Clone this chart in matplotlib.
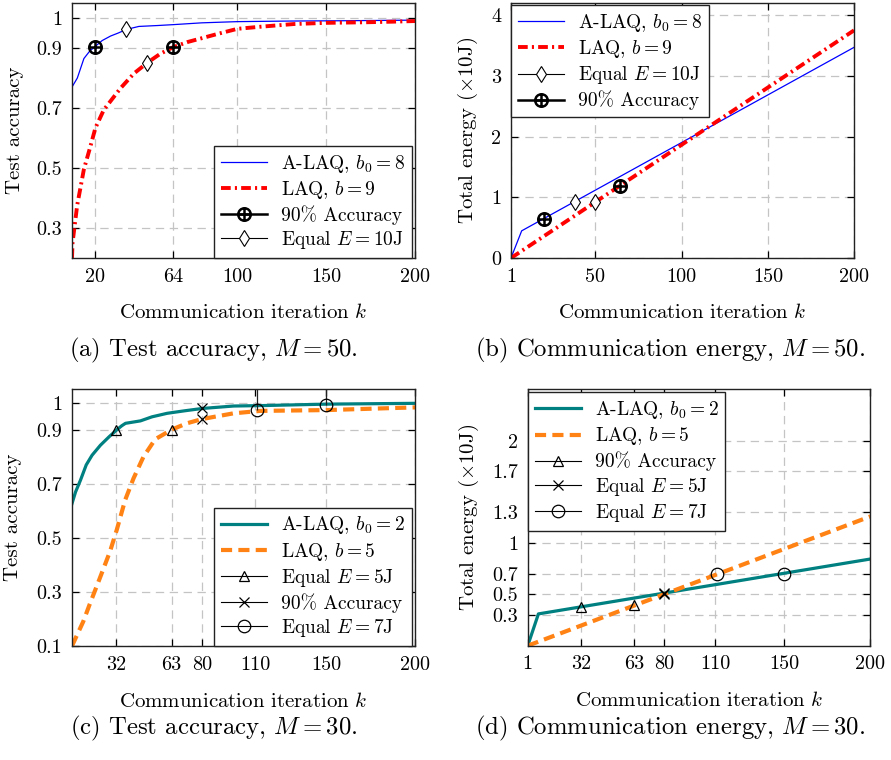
import matplotlib
matplotlib.use("Agg")
import matplotlib.pyplot as plt
from matplotlib.lines import Line2D
from matplotlib.path import Path

plt.rcParams.update({
    "font.family": "serif",
    "font.serif": ["cmr10"],
    "mathtext.fontset": "cm",
    "axes.unicode_minus": False,
    "axes.formatter.use_mathtext": True,
    "font.size": 14,
    "lines.scale_dashes": False,
})

# ---- (a) test accuracy, M = 50
a_alaq_k = [7, 10, 13.7, 17, 20, 24, 28.7, 33, 37.6, 44.6, 55, 64, 80, 100, 130, 160, 200]
a_alaq_acc = [0.77, 0.80, 0.865, 0.89, 0.905, 0.925, 0.94, 0.95, 0.962, 0.972, 0.975,
              0.978, 0.984, 0.988, 0.99, 0.991, 0.993]
a_laq_k = [7, 7.3, 9.9, 13.7, 17.4, 20.2, 24.9, 34.3, 41.8, 49.4, 56.7, 64, 72, 88.9,
           100, 113, 131.8, 150, 172.9, 188, 200]
a_laq_acc = [0.2, 0.25, 0.375, 0.496, 0.573, 0.634, 0.694, 0.766, 0.815, 0.851, 0.881,
             0.903, 0.92, 0.947, 0.964, 0.971, 0.98, 0.984, 0.986, 0.988, 0.99]
a_acc90_k = [20, 64]
a_acc90_acc = [0.905, 0.903]
a_eq_k = [37.6, 49.4]
a_eq_acc = [0.962, 0.851]

# ---- (b) energy, M = 50
b_alaq_k = [1, 7.2, 200]
b_alaq_e = [0, 0.448, 3.47]
b_laq_k = [1, 200]
b_laq_e = [0, 3.75]
b_acc90_k = [20, 64]
b_acc90_e = [0.64, 1.19]
b_eq_k = [38, 50]
b_eq_e = [0.92, 0.93]

# ---- (c) test accuracy, M = 30
c_alaq_k = [7, 9, 11.8, 15, 18.3, 23, 28, 32.4, 35, 37.1, 45.5, 52, 60.5, 70, 80.3,
            97.9, 116.6, 150, 200]
c_alaq_acc = [0.627, 0.67, 0.714, 0.77, 0.806, 0.843, 0.875, 0.901, 0.915, 0.924, 0.933,
              0.948, 0.961, 0.97, 0.979, 0.988, 0.99, 0.995, 0.998]
c_laq_k = [7, 13.3, 17, 22.6, 28.4, 32.2, 36.9, 41.6, 47.2, 53.8, 63.2, 71.6, 80.3, 97.9,
           112.9, 150, 200]
c_laq_acc = [0.1, 0.19, 0.255, 0.35, 0.45, 0.53, 0.64, 0.72, 0.80, 0.865, 0.901,
             0.924, 0.94, 0.961, 0.97, 0.973, 0.983]
c_e5_k = [32, 63]
c_e5_acc = [0.90, 0.90]
c_acc90_k = [80, 80]
c_acc90_acc = [0.979, 0.94]
c_e7_k = [111, 150]
c_e7_acc = [0.975, 0.99]

# ---- (d) energy, M = 30
d_alaq_k = [1, 7.2, 200]
d_alaq_e = [0, 0.31, 0.845]
d_laq_k = [1, 200]
d_laq_e = [0, 1.26]
d_acc90_k = [32, 63]
d_acc90_e = [0.38, 0.40]
d_e5_k = [80, 80]
d_e5_e = [0.51, 0.50]
d_e7_k = [111, 150]
d_e7_e = [0.70, 0.70]

BLUE = "#0000ff"
RED = "#ff0000"
TEAL = "#008080"
ORANGE = "#ff8214"
DASHDOT = (0, (7, 3, 1.5, 3))
DASHED = (0, (8, 4.5))

# circle with a plus inside
oplus = Path.make_compound_path(
    Path.unit_circle(),
    Path([[-1, 0], [1, 0]], [Path.MOVETO, Path.LINETO]),
    Path([[0, -1], [0, 1]], [Path.MOVETO, Path.LINETO]),
)


def style(ax, xlim, ylim, xticks, yticks, ylabel, ylab_x):
    ax.set_xlim(*xlim)
    ax.set_ylim(*ylim)
    ax.set_xticks(xticks)
    ax.set_xticklabels([str(t) for t in xticks])
    ax.set_yticks(yticks)
    ax.set_yticklabels([f"{t:g}" for t in yticks])
    ax.grid(True, color="#c4c4c4", linestyle=(0, (6, 4)), linewidth=0.9)
    ax.tick_params(direction="in", length=5, width=0.9, top=True, right=True,
                   labelsize=14.5, pad=7)
    for s in ax.spines.values():
        s.set_linewidth(1.0)
        s.set_color("#222222")
    ax.set_xlabel(r"Communication iteration $k$", fontsize=15)
    ax.xaxis.label.set_va("center")
    ax.xaxis.set_label_coords(0.5, -0.215)
    ax.set_ylabel(ylabel, fontsize=15)
    ax.yaxis.label.set_va("center")
    ax.yaxis.set_label_coords(-ylab_x, 0.5)


def legend(ax, handles, labels, loc, anchor):
    lg = ax.legend(handles, labels, loc=loc, bbox_to_anchor=anchor, fontsize=14,
                   frameon=True, fancybox=False, framealpha=1, edgecolor="#222222",
                   borderaxespad=0, borderpad=0.35, handlelength=2.4,
                   handletextpad=0.7, labelspacing=0.22, numpoints=1)
    lg.get_frame().set_linewidth(1.0)


fig = plt.figure(figsize=(8.91, 7.6), dpi=100)
ax_a = fig.add_axes([0.0808, 0.6605, 0.385, 0.3355])
ax_b = fig.add_axes([0.5735, 0.6605, 0.385, 0.3355])
ax_c = fig.add_axes([0.0808, 0.15, 0.385, 0.3378])
ax_d = fig.add_axes([0.5923, 0.1504, 0.3845, 0.3374])

# (a)
ax_a.plot(a_alaq_k, a_alaq_acc, color=BLUE, lw=0.9)
ax_a.plot(a_laq_k, a_laq_acc, color=RED, lw=2.8, linestyle=DASHDOT)
ax_a.plot(a_acc90_k, a_acc90_acc, ls="none", marker=oplus, ms=9, mfc="none",
          mec="black", mew=1.8)
ax_a.plot(a_eq_k, a_eq_acc, ls="none", marker="d", ms=8, mfc="white", mec="black",
          mew=0.8)
style(ax_a, (7, 200), (0.2, 1.05), [20, 64, 100, 150, 200],
      [0.3, 0.5, 0.7, 0.9, 1], "Test accuracy", 0.166)
legend(ax_a,
       [Line2D([], [], color=BLUE, lw=0.9),
        Line2D([], [], color=RED, lw=2.8, linestyle=DASHDOT),
        Line2D([], [], color="black", lw=1.8, marker=oplus, ms=9, mfc="none", mew=1.8),
        Line2D([], [], color="black", lw=0.8, marker="d", ms=8, mfc="white", mew=0.8)],
       [r"A-LAQ, $b_0 = 8$", r"LAQ, $b = 9$", "90% Accuracy", r"Equal $E = 10$J"],
       "lower right", (0.99, 0.0))

# (b)
ax_b.plot(b_alaq_k, b_alaq_e, color=BLUE, lw=0.9)
ax_b.plot(b_laq_k, b_laq_e, color=RED, lw=2.8, linestyle=DASHDOT)
ax_b.plot(b_eq_k, b_eq_e, ls="none", marker="d", ms=8, mfc="white", mec="black", mew=0.8)
ax_b.plot(b_acc90_k, b_acc90_e, ls="none", marker=oplus, ms=9, mfc="none",
          mec="black", mew=1.8)
style(ax_b, (1, 200), (0, 4.2), [1, 50, 100, 150, 200], [0, 1, 2, 3, 4],
      r"Total energy ($\times$10J)", 0.125)
legend(ax_b,
       [Line2D([], [], color=BLUE, lw=0.9),
        Line2D([], [], color=RED, lw=2.8, linestyle=DASHDOT),
        Line2D([], [], color="black", lw=0.8, marker="d", ms=8, mfc="white", mew=0.8),
        Line2D([], [], color="black", lw=1.8, marker=oplus, ms=9, mfc="none", mew=1.8)],
       [r"A-LAQ, $b_0 = 8$", r"LAQ, $b = 9$", r"Equal $E = 10$J", "90% Accuracy"],
       "upper left", (0.0, 0.992))

# (c)
ax_c.plot(c_alaq_k, c_alaq_acc, color=TEAL, lw=2.3)
ax_c.plot(c_laq_k, c_laq_acc, color=ORANGE, lw=3.0, linestyle=DASHED)
ax_c.vlines(c_e7_k, c_e7_acc, 1.05, color="#222222", lw=0.9)
ax_c.plot(c_e5_k, c_e5_acc, ls="none", marker="^", ms=7, mfc="none", mec="black", mew=0.9)
ax_c.plot(c_acc90_k, c_acc90_acc, ls="none", marker="x", ms=7, mec="black", mew=0.9)
ax_c.plot(c_e7_k, c_e7_acc, ls="none", marker="o", ms=9, mfc="none", mec="black", mew=0.9)
style(ax_c, (7, 200), (0.1, 1.05), [32, 63, 80, 110, 150, 200],
      [0.1, 0.3, 0.5, 0.7, 0.9, 1], "Test accuracy", 0.171)
legend(ax_c,
       [Line2D([], [], color=TEAL, lw=2.3),
        Line2D([], [], color=ORANGE, lw=3.0, linestyle=DASHED),
        Line2D([], [], color="black", lw=0.8, marker="^", ms=7, mfc="none", mew=0.9),
        Line2D([], [], color="black", lw=0.8, marker="x", ms=7, mew=0.9),
        Line2D([], [], color="black", lw=0.8, marker="o", ms=9, mfc="none", mew=0.9)],
       [r"A-LAQ, $b_0 = 2$", r"LAQ, $b = 5$", r"Equal $E = 5$J", "90% Accuracy",
        r"Equal $E = 7$J"],
       "lower right", (0.99, 0.0))

# (d)
ax_d.plot(d_alaq_k, d_alaq_e, color=TEAL, lw=2.3)
ax_d.plot(d_laq_k, d_laq_e, color=ORANGE, lw=3.0, linestyle=DASHED)
ax_d.plot(d_acc90_k, d_acc90_e, ls="none", marker="^", ms=7, mfc="none", mec="black", mew=0.9)
ax_d.plot(d_e5_k, d_e5_e, ls="none", marker="x", ms=7, mec="black", mew=0.9)
ax_d.plot(d_e7_k, d_e7_e, ls="none", marker="o", ms=9, mfc="none", mec="black", mew=0.9)
style(ax_d, (1, 200), (0, 2.5), [1, 32, 63, 80, 110, 150, 200],
      [0.3, 0.5, 0.7, 1, 1.3, 1.7, 2], r"Total energy ($\times$10J)", 0.173)
legend(ax_d,
       [Line2D([], [], color=TEAL, lw=2.3),
        Line2D([], [], color=ORANGE, lw=3.0, linestyle=DASHED),
        Line2D([], [], color="black", lw=0.8, marker="^", ms=7, mfc="none", mew=0.9),
        Line2D([], [], color="black", lw=0.8, marker="x", ms=7, mew=0.9),
        Line2D([], [], color="black", lw=0.8, marker="o", ms=9, mfc="none", mew=0.9)],
       [r"A-LAQ, $b_0 = 2$", r"LAQ, $b = 5$", "90% Accuracy", r"Equal $E = 5$J",
        r"Equal $E = 7$J"],
       "upper left", (0.0, 0.988))

# sub-captions
cap = dict(ha="center", va="center", fontsize=17.8)
fig.text(0.240, 0.539, r"(a) Test accuracy, $M = 50$.", **cap)
fig.text(0.752, 0.539, r"(b) Communication energy, $M = 50$.", **cap)
fig.text(0.240, 0.042, r"(c) Test accuracy, $M = 30$.", **cap)
fig.text(0.752, 0.042, r"(d) Communication energy, $M = 30$.", **cap)

fig.savefig("out.png", dpi=100)
